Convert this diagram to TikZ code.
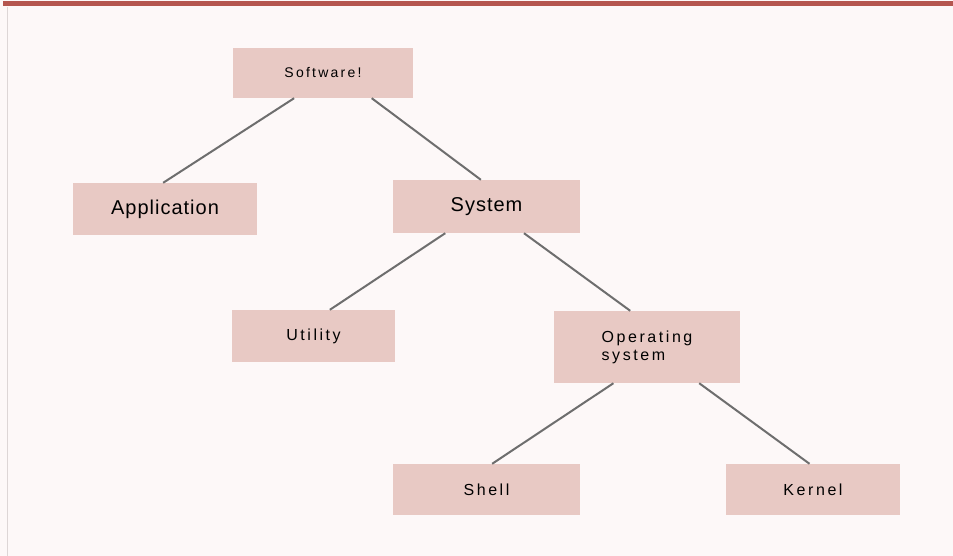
\documentclass[tikz,border=0pt]{standalone}
\usepackage{fontspec}
\setmainfont{Liberation Sans}
\newfontfamily\headfont[LetterSpace=5]{Liberation Sans}
\newfontfamily\widefont[LetterSpace=16]{Liberation Sans}
\usetikzlibrary{calc}
\definecolor{pagepink}{HTML}{FDF8F8}
\definecolor{boxpink}{HTML}{E8C9C4}
\definecolor{barred}{HTML}{B5564F}
\definecolor{branchgrey}{HTML}{6E6E6E}
\definecolor{edgegrey}{HTML}{DDD6D6}
\tikzset{
box/.style={fill=boxpink,draw=none,inner sep=0pt,anchor=center},
bigbox/.style={box,font=\fontsize{20}{24}\selectfont\headfont},
smallbox/.style={box,font=\fontsize{16}{18}\selectfont\widefont,align=left},
branch/.style={draw=branchgrey,line width=2pt}
}

\begin{document}
\begin{tikzpicture}[x=1pt,y=-1pt]
\useasboundingbox (0,0) rectangle (953,556);
% page
\fill[pagepink] (0,0) rectangle (953,556);
\fill[barred] (3,1.5) rectangle (953,6.5);
\draw[edgegrey,line width=1.5pt] (7.5,7) -- (7.5,556);

% tree
\node[smallbox,font=\fontsize{14}{16}\selectfont\widefont,minimum width=180pt,minimum height=50pt] (sw) at (323,73) {Software!};
\node[bigbox,minimum width=184pt,minimum height=52pt] (app) at (165,209) {Application};
\node[bigbox,minimum width=187pt,minimum height=53pt] (sys) at (486.5,206.5) {System};
\node[smallbox,minimum width=163pt,minimum height=52pt] (util) at (313.5,336) {Utility};
\node[smallbox,minimum width=186pt,minimum height=72pt] (os) at (647,347) {Operating\\system};
\node[smallbox,minimum width=187pt,minimum height=51pt] (shell) at (486.5,489.5) {Shell};
\node[smallbox,minimum width=174pt,minimum height=51pt] (kern) at (813,489.5) {Kernel};

\draw[branch] ($(sw.south west)!0.34!(sw.south east)$) -- ($(app.north west)!0.49!(app.north east)$);
\draw[branch] ($(sw.south west)!0.77!(sw.south east)$) -- ($(sys.north west)!0.47!(sys.north east)$);
\draw[branch] ($(sys.south west)!0.28!(sys.south east)$) -- ($(util.north west)!0.6!(util.north east)$);
\draw[branch] ($(sys.south west)!0.7!(sys.south east)$) -- ($(os.north west)!0.41!(os.north east)$);
\draw[branch] ($(os.south west)!0.32!(os.south east)$) -- ($(shell.north west)!0.53!(shell.north east)$);
\draw[branch] ($(os.south west)!0.78!(os.south east)$) -- ($(kern.north west)!0.48!(kern.north east)$);
\end{tikzpicture}
\end{document}
